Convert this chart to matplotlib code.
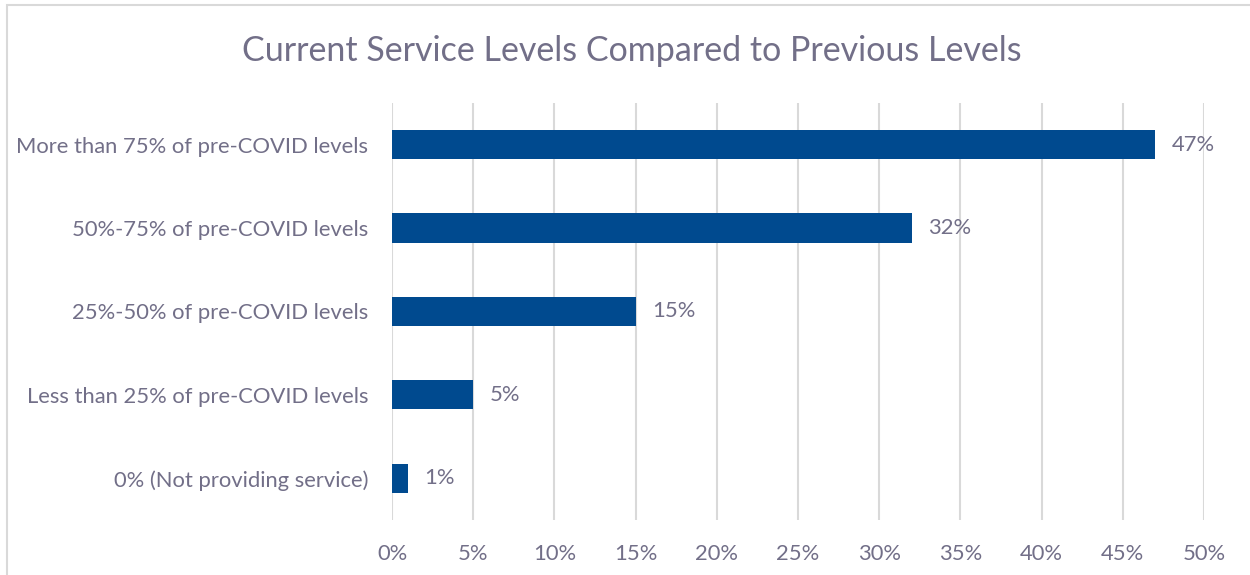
import matplotlib
matplotlib.use('Agg')
import matplotlib.pyplot as plt
from matplotlib.patches import Rectangle

# survey answers, listed bottom to top
categories = [
    '0% (Not providing service)',
    'Less than 25% of pre-COVID levels',
    '25%-50% of pre-COVID levels',
    '50%-75% of pre-COVID levels',
    'More than 75% of pre-COVID levels',
]
shares = [1, 5, 15, 32, 47]
xticks = [0, 5, 10, 15, 20, 25, 30, 35, 40, 45, 50]

text_color = '#726f88'
bar_color = '#004a8f'
grid_color = '#d9d9d9'

plt.rcParams['font.family'] = ['Lato', 'DejaVu Sans']

fig = plt.figure(figsize=(12.5, 5.75), dpi=100)
ax = fig.add_axes([0.3136, 0.0957, 0.6496, 0.7252])

ypos = range(len(categories))
ax.barh(ypos, shares, height=0.35, color=bar_color, zorder=3)
for y, v in zip(ypos, shares):
    ax.text(v + 1.0, y, f'{v}%', va='center', ha='left',
            fontsize=15.8, color=text_color)

ax.set_xlim(0, 50)
ax.set_ylim(-0.5, len(categories) - 0.5)
ax.set_xticks(xticks)
ax.set_xticklabels([f'{t}%' for t in xticks])
ax.set_yticks(list(ypos))
ax.set_yticklabels(categories)
ax.tick_params(axis='both', length=0, labelsize=15.8, labelcolor=text_color)
ax.tick_params(axis='x', pad=17)
ax.tick_params(axis='y', pad=17)
ax.xaxis.grid(True, color=grid_color, linewidth=1.5, zorder=0)
for s in ax.spines.values():
    s.set_visible(False)

fig.text(0.5056, 0.911, 'Current Service Levels Compared to Previous Levels',
         ha='center', va='center', fontsize=24.5, color=text_color)

# chart frame
fig.patches.append(Rectangle((7 / 1250, -0.1), 1.2, 1 - 5 / 575 + 0.1,
                             transform=fig.transFigure, fill=False,
                             edgecolor='#d9d9d9', linewidth=1.5))

fig.savefig('out.png', dpi=100)
